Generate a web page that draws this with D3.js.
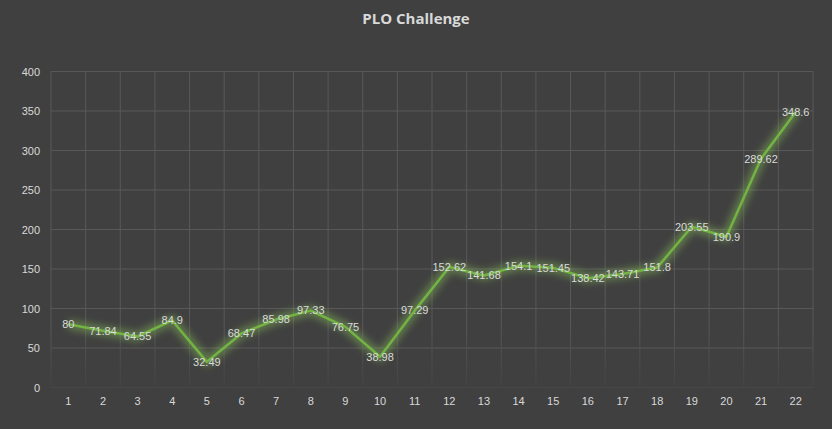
<!DOCTYPE html>
<html>
<head>
<meta charset="utf-8">
<script src="https://cdn.jsdelivr.net/npm/d3@7"></script>
<style>
  html, body { margin: 0; padding: 0; background: #404040; }
  svg { display: block; }
  .tick text { fill: #d9d9d9; font-family: "Liberation Sans", Arial, sans-serif; font-size: 11px; }
  .label { fill: #dadada; font-family: "Liberation Sans", Arial, sans-serif; font-size: 11px; }
</style>
</head>
<body>
<svg width="832" height="429"></svg>
<script>
// datos del gráfico
const sessions = d3.range(1, 23);
const values = [80, 71.84, 64.55, 84.9, 32.49, 68.47, 85.98, 97.33, 76.75, 38.98, 97.29,
  152.62, 141.68, 154.1, 151.45, 138.42, 143.71, 151.8, 203.55, 190.9, 289.62, 348.6];
const yTicks = [0, 50, 100, 150, 200, 250, 300, 350, 400];

const width = 832, height = 429;
const margin = { top: 71.5, right: 19, bottom: 41.5, left: 51 };
const svg = d3.select("svg");

svg.append("rect").attr("width", width).attr("height", height).attr("fill", "#404040");

// filtro para el brillo de la línea
const defs = svg.append("defs");
const glow = defs.append("filter").attr("id", "glow")
  .attr("x", "-10%").attr("y", "-10%").attr("width", "120%").attr("height", "120%");
glow.append("feGaussianBlur").attr("in", "SourceGraphic").attr("stdDeviation", 3.5);

// degradado para que la rejilla vertical se desvanezca abajo
const fade = defs.append("linearGradient").attr("id", "fade")
  .attr("gradientUnits", "userSpaceOnUse")
  .attr("x1", 0).attr("x2", 0).attr("y1", margin.top).attr("y2", height - margin.bottom);
fade.append("stop").attr("offset", "80%").attr("stop-color", "#585858");
fade.append("stop").attr("offset", "100%").attr("stop-color", "#444444");

const x = d3.scaleBand().domain(sessions).range([margin.left, width - margin.right]);
const y = d3.scaleLinear().domain([0, 400]).range([height - margin.bottom, margin.top]);

// rejilla horizontal
svg.append("g").selectAll("line").data(yTicks).enter().append("line")
  .attr("x1", margin.left).attr("x2", width - margin.right)
  .attr("y1", d => y(d)).attr("y2", d => y(d))
  .attr("stroke", d => d === 0 ? "#474747" : "#585858").attr("stroke-width", 1);

// rejilla vertical en los límites de categoría
const bounds = sessions.map(s => x(s)).concat([width - margin.right]);
svg.append("g").selectAll("rect").data(bounds).enter().append("rect")
  .attr("x", d => d - 0.5).attr("width", 1)
  .attr("y", y(400)).attr("height", y(0) - y(400))
  .attr("fill", "url(#fade)");

const yAxis = svg.append("g")
  .attr("transform", `translate(${margin.left - 11},0)`)
  .call(d3.axisLeft(y).tickValues(yTicks).tickSize(0).tickPadding(0));
yAxis.select(".domain").remove();

const xAxis = svg.append("g")
  .attr("transform", `translate(0,${y(0) + 10})`)
  .call(d3.axisBottom(x).tickSize(0).tickPadding(0));
xAxis.select(".domain").remove();

const line = d3.line()
  .x((d, i) => x(sessions[i]) + x.bandwidth() / 2)
  .y(d => y(d));

svg.append("path").datum(values)
  .attr("d", line)
  .attr("fill", "none")
  .attr("stroke", "#8fce5a")
  .attr("stroke-opacity", 0.4)
  .attr("stroke-width", 10)
  .attr("stroke-linejoin", "round")
  .attr("filter", "url(#glow)");

svg.append("path").datum(values)
  .attr("d", line)
  .attr("fill", "none")
  .attr("stroke", "#72b343")
  .attr("stroke-width", 2.5)
  .attr("stroke-linejoin", "round");

// etiquetas de datos centradas en el punto
svg.append("g").selectAll("text").data(values).enter().append("text")
  .attr("class", "label")
  .attr("x", (d, i) => x(sessions[i]) + x.bandwidth() / 2)
  .attr("y", d => y(d))
  .attr("dy", "0.35em")
  .attr("text-anchor", "middle")
  .text(d => d);

svg.append("text")
  .attr("x", 416).attr("y", 24)
  .attr("text-anchor", "middle")
  .attr("fill", "#d9d9d9")
  .attr("font-family", "'Open Sans', 'Liberation Sans', sans-serif")
  .attr("font-weight", "bold")
  .attr("font-size", 15)
  .text("PLO Challenge");
</script>
</body>
</html>
